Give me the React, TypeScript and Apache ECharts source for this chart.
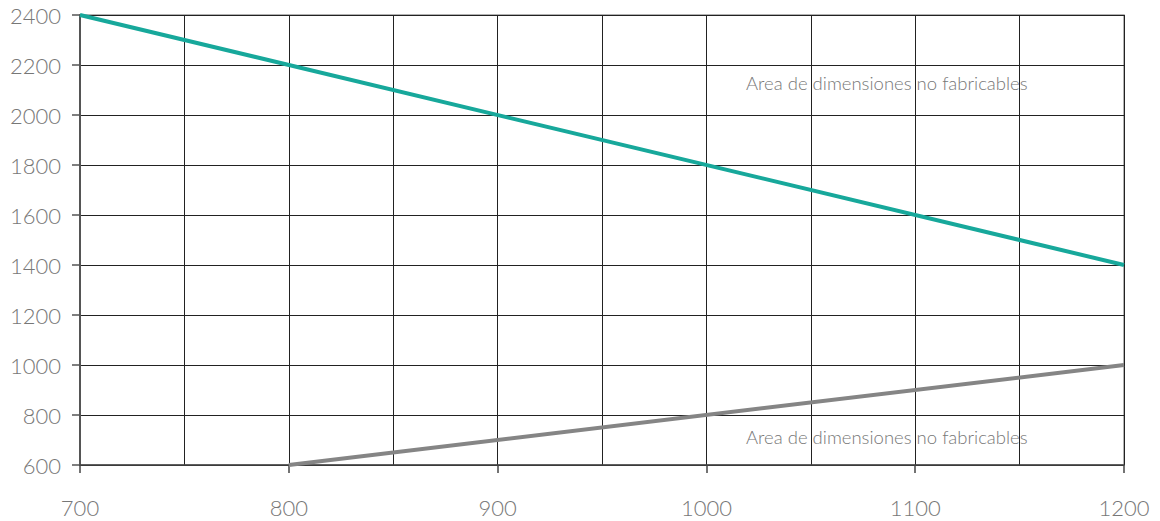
import React, { useEffect, useRef } from "react";
import * as echarts from "echarts";

const widths = [700, 800, 900, 1000, 1100, 1200];
const tealSeries: [number, number][] = [
  [700, 2400],
  [1200, 1400],
];
const graySeries: [number, number][] = [
  [800, 600],
  [1200, 1000],
];
const areaLabel = "Area de dimensiones no fabricables";

export default function App() {
  const ref = useRef<HTMLDivElement>(null);
  useEffect(() => {
    if (!ref.current) return;
    const chart = echarts.init(ref.current, undefined, { renderer: "svg" });
    const font = "Lato, 'Open Sans', sans-serif";
    chart.setOption({
      animation: false,
      backgroundColor: "#fff",
      grid: {
        left: 80,
        right: 36,
        top: 15,
        bottom: 56,
        show: true,
        borderColor: "#999",
        borderWidth: 1.5,
      },
      xAxis: {
        type: "value",
        min: widths[0],
        max: widths[widths.length - 1],
        interval: 100,
        axisLine: { show: true, lineStyle: { color: "#444", width: 1.5 } },
        axisTick: { show: true, length: 8, lineStyle: { color: "#444", width: 1.5 } },
        axisLabel: {
          margin: 31,
          color: "#777",
          fontSize: 22,
          fontFamily: font,
          fontWeight: 300,
          formatter: (v: number) => String(v),
        },
        splitLine: { show: true, lineStyle: { color: "#222", width: 1 } },
        minorTick: { show: false, splitNumber: 2 },
        minorSplitLine: { show: true, lineStyle: { color: "#222", width: 1 } },
      },
      yAxis: {
        type: "value",
        min: 600,
        max: 2400,
        interval: 200,
        axisLine: { show: true, lineStyle: { color: "#555", width: 2 } },
        axisTick: { show: true, length: 8, lineStyle: { color: "#555", width: 1.5 } },
        axisLabel: {
          margin: 19,
          color: "#777",
          fontSize: 22,
          fontFamily: font,
          fontWeight: 300,
          formatter: (v: number) => String(v),
        },
        splitLine: { show: true, lineStyle: { color: "#222", width: 1 } },
      },
      series: [
        {
          type: "line",
          data: tealSeries,
          symbol: "none",
          lineStyle: { color: "#17a89b", width: 4 },
          z: 5,
        },
        {
          type: "line",
          data: graySeries,
          symbol: "none",
          lineStyle: { color: "#858585", width: 4 },
          z: 4,
        },
      ],
      graphic: [
        {
          type: "text",
          left: 746,
          top: 73,
          style: {
            text: areaLabel,
            fill: "#777",
            fontSize: 18.5,
            fontFamily: font,
            fontWeight: 300,
          },
          z: 10,
        },
        {
          type: "text",
          left: 746,
          top: 427,
          style: {
            text: areaLabel,
            fill: "#777",
            fontSize: 18.5,
            fontFamily: font,
            fontWeight: 300,
          },
          z: 10,
        },
      ],
    });
    return () => chart.dispose();
  }, []);
  return (
    <div
      ref={ref}
      style={{ position: "fixed", left: 0, top: 0, width: 1160, height: 521 }}
    />
  );
}
